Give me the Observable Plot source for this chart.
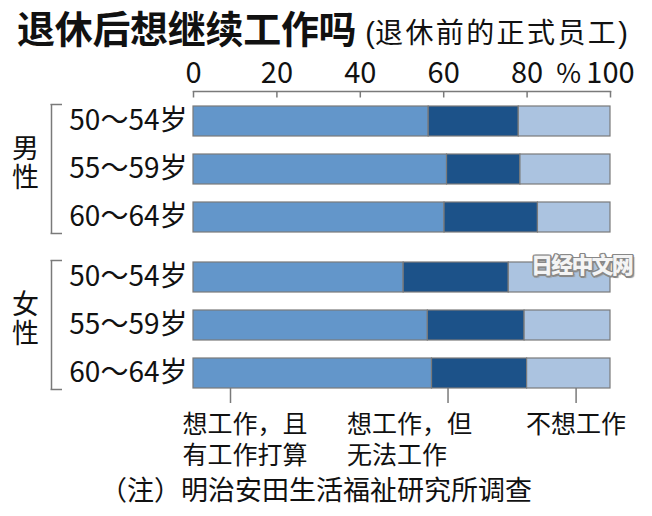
<!DOCTYPE html>
<html><head><meta charset="utf-8">
<script src="https://cdn.jsdelivr.net/npm/d3@7"></script>
<script src="https://cdn.jsdelivr.net/npm/@observablehq/plot@0.6"></script>
<style>
body{margin:0;background:#fff;font-family:"Noto Sans CJK SC",sans-serif;color:#111;width:652px;height:516px;overflow:hidden;position:relative}
#title{height:52px;line-height:54px;padding-left:17px;white-space:nowrap}
#title .t{font-size:38px;font-weight:700;letter-spacing:-0.3px}
#title .s{font-size:28px;font-weight:400;letter-spacing:2.4px;margin-left:9px}
#title .p{font-family:"Liberation Sans","Noto Sans CJK SC",sans-serif;font-size:29px;letter-spacing:0}
#chart svg{display:block;overflow:visible}
#caption{font-size:27px;line-height:30px;padding-top:10px;padding-left:100px;white-space:nowrap}
#wm{position:absolute;left:531px;top:247px;font-size:22px;font-weight:900;color:#f4f4f4;letter-spacing:-1.8px;
text-shadow:1.5px 0 #888,-1.5px 0 #888,0 1.5px #888,0 -1.5px #888,1px 1px #888,-1px -1px #888,1px -1px #888,-1px 1px #888,2px 2px 1px #999}
</style></head><body>
<div id="title"><span class="t">退休后想继续工作吗</span><span class="s"><span class="p">(</span>退休前的正式员工<span class="p">)</span></span></div>
<div id="chart"></div>
<div id="caption">（注）明治安田生活福祉研究所调查</div>
<div id="wm">日经中文网</div>
<script>
const genders = ["男性", "女性"];
const ages = ["50～54岁", "55～59岁", "60～64岁"];
const categories = ["想工作，且\n有工作打算", "想工作，但\n无法工作", "不想工作"];
// rows: 男性 50-54, 55-59, 60-64, 女性 50-54, 55-59, 60-64
const wantAndPlan   = [56.4, 60.8, 60.2, 50.4, 56.2, 57.2];
const wantButCannot = [21.6, 17.6, 22.4, 25.2, 23.2, 22.8];
const notWant       = [22.0, 21.6, 17.4, 24.4, 20.6, 20.0];
const xTicks = [0, 20, 40, 60, 80, 100];
const colors = ["#6396ca", "#1c5289", "#abc3e0"];

const series = [wantAndPlan, wantButCannot, notWant];
const rows = [];
genders.forEach((g, gi) => ages.forEach((a, ai) => {
  const i = gi * ages.length + ai;
  categories.forEach((c, ci) => rows.push({gender: g, age: a, category: c, value: series[ci][i]}));
}));

// legend: anchored at the segment starts of the last row
const lastIdx = genders.length * ages.length - 1;
let acc = 0;
const legendItems = categories.map((c, ci) => {
  const start = acc; acc += series[ci][lastIdx];
  return {category: c, start, gender: genders[genders.length - 1], age: ages[ages.length - 1]};
});
const legendStyle = [{tdx: -11, ldx: 37}, {tdx: -85, ldx: 16}, {tdx: -1, ldx: 49}];

const gray = "#7a7a7a";
const font = "Noto Sans CJK SC";

const legendMarks = legendItems.flatMap((d, i) => [
  Plot.tickX([d], {x: "start", y: "age", fy: "gender", dx: legendStyle[i].ldx, insetTop: 30, insetBottom: -15, stroke: gray, strokeWidth: 1.5}),
  Plot.text([d], {x: "start", y: "age", fy: "gender", text: "category", dx: legendStyle[i].tdx, dy: 37,
    textAnchor: "start", lineAnchor: "top", lineHeight: 1.24, fontSize: 25, fill: "#111"})
]);

const chart = Plot.plot({
  width: 652,
  height: 412,
  marginTop: 38,
  marginLeft: 193,
  marginRight: 42,
  marginBottom: 61,
  style: {fontFamily: font, background: "#fff", color: "#111", overflow: "visible"},
  x: {domain: [xTicks[0], xTicks[xTicks.length - 1]], axis: null},
  y: {domain: ages, paddingInner: 0.375, paddingOuter: 0.3125, axis: null},
  fy: {domain: genders, padding: 0, axis: null},
  color: {domain: categories, range: colors},
  marks: [
    Plot.barX(rows, {x: "value", y: "age", fy: "gender", fill: "category", stroke: gray, strokeWidth: 1.2}),
    // top axis line and ticks
    Plot.frame({anchor: "top", facetAnchor: "top", stroke: gray, strokeWidth: 1.5}),
    Plot.ruleX(xTicks, {facetAnchor: "top", insetBottom: 156.5 - 7, stroke: gray, strokeWidth: 1.5}),
    Plot.axisX({anchor: "top", ticks: xTicks, tickSize: 0, tickPadding: 9, fontSize: 29, label: null,
      tickFormat: d => String(d)}),
    Plot.text(["%"], {x: () => (xTicks[4] + xTicks[5]) / 2, frameAnchor: "top", facetAnchor: "top", dy: -9,
      lineAnchor: "bottom", fontSize: 27, fill: "#111"}),
    // age labels
    Plot.axisY({anchor: "left", tickSize: 0, tickPadding: 6, fontSize: 28, label: null}),
    // gender brackets
    Plot.ruleX([xTicks[0]], {dx: -142, insetTop: 13, insetBottom: 14, stroke: gray, strokeWidth: 1.5}),
    Plot.ruleY(genders.map(g => ({gender: g, age: ages[0]})), {y: "age", fy: "gender", dy: -17, insetLeft: -142.5, insetRight: 548, stroke: gray, strokeWidth: 1.5}),
    Plot.ruleY(genders.map(g => ({gender: g, age: ages[ages.length - 1]})), {y: "age", fy: "gender", dy: 16, insetLeft: -142.5, insetRight: 548, stroke: gray, strokeWidth: 1.5}),
    Plot.text(genders.map(g => ({gender: g, ch: g[0]})), {fy: "gender", text: "ch", frameAnchor: "left", dx: -168, dy: -20,
      textAnchor: "middle", fontSize: 27, fill: "#111"}),
    Plot.text(genders.map(g => ({gender: g, ch: g[1]})), {fy: "gender", text: "ch", frameAnchor: "left", dx: -168, dy: 9,
      textAnchor: "middle", fontSize: 27, fill: "#111"}),
    ...legendMarks
  ]
});
document.getElementById("chart").appendChild(chart);
</script>
</body></html>
